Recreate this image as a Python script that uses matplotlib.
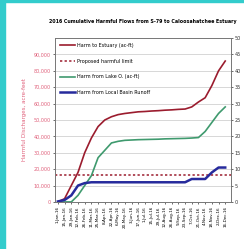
#!/usr/bin/env python3
import matplotlib
matplotlib.use("Agg")

import matplotlib.pyplot as plt
from matplotlib.patches import Rectangle


DATES = [
    "1-Jan-16", "15-Jan-16", "29-Jan-16", "12-Feb-16", "26-Feb-16",
    "11-Mar-16", "25-Mar-16", "8-Apr-16", "22-Apr-16", "6-May-16",
    "20-May-16", "3-Jun-16", "17-Jun-16", "1-Jul-16", "15-Jul-16",
    "29-Jul-16", "12-Aug-16", "26-Aug-16", "9-Sep-16", "23-Sep-16",
    "7-Oct-16", "21-Oct-16", "4-Nov-16", "18-Nov-16", "2-Dec-16",
    "16-Dec-16",
]

# cumulative acre-feet
HARM_TOTAL = [0, 2000, 10000, 18000, 30000, 39000, 46000, 50000, 52000, 53300,
              54000, 54500, 55000, 55200, 55500, 55700, 56000, 56200, 56500, 56700,
              58000, 61000, 63600, 71000, 80000, 86000]
HARM_LAKE = [0, 0, 0, 4000, 10000, 16000, 27000, 31500, 36000, 37000,
             37600, 37800, 38000, 38100, 38200, 38300, 38500, 38600, 38700, 38800,
             39000, 39300, 43000, 48500, 54000, 58000]
HARM_BASIN = [300, 1200, 4000, 10000, 11500, 12000, 12000, 12000, 12000, 12000,
              12000, 12000, 12000, 12000, 12000, 12000, 12000, 12000, 12000, 12000,
              14000, 14000, 14000, 18000, 21000, 21000]
HARM_LIMIT = 16500

LEFT_TICKS = [0, 10000, 20000, 30000, 40000, 50000, 60000, 70000, 80000, 90000]
LEFT_LABELS = ["0", "10,000", "20,000", "30,000", "40,000", "50,000",
               "60,000", "70,000", "80,000", "90,000"]
RIGHT_TICKS = [0, 5, 10, 15, 20, 25, 30, 35, 40, 45, 50]

RED = "#9b1c2e"
GREEN = "#3f9a6e"
NAVY = "#262a9c"
PINK = "#e0607a"

fig = plt.figure(figsize=(2.44, 2.49), dpi=100)
fig.patches.append(Rectangle((0, 0), 5 / 244, 1, transform=fig.transFigure,
                             color="#33cccc", zorder=0))
fig.patches.append(Rectangle((0, 1 - 2 / 249), 1, 2 / 249, transform=fig.transFigure,
                             color="#33cccc", zorder=0))

ax = fig.add_axes([0.225, 0.189, 0.72, 0.658])
x = list(range(len(DATES)))

ax.plot(x, HARM_TOTAL, color=RED, lw=1.2, label="Harm to Estuary (ac-ft)")
ax.axhline(HARM_LIMIT, color=RED, lw=1.1, ls=(0, (1.5, 1.5)),
           label="Proposed harmful limit")
ax.plot(x, HARM_LAKE, color=GREEN, lw=1.2, label="Harm from Lake O. (ac-ft)")
ax.plot(x, HARM_BASIN, color=NAVY, lw=1.8, label="Harm from Local Basin Runoff")

ax.set_xlim(-0.45, 25.8)
ax.set_ylim(0, 100000)
ax.set_yticks(LEFT_TICKS)
ax.set_yticklabels(LEFT_LABELS, color=PINK, fontsize=3.5)
ax.set_xticks(x)
ax.set_xticklabels(DATES, rotation=90, fontsize=3)
ax.tick_params(length=1.5, width=0.4, pad=1.5)
ax.grid(axis="y", color="#c8c8c8", lw=0.5)
ax.set_axisbelow(True)
for s in ax.spines.values():
    s.set_linewidth(0.6)
    s.set_color("#777777")
ax.set_ylabel("Harmful Discharges, acre-feet", color=PINK, fontsize=4, labelpad=5)

ax2 = ax.twinx()
ax2.set_ylim(0, 50)
ax2.set_yticks(RIGHT_TICKS)
ax2.set_yticklabels([str(t) for t in RIGHT_TICKS], fontsize=3.5, color="#333333")
ax2.tick_params(length=1.5, width=0.4, pad=1.5)
for s in ax2.spines.values():
    s.set_linewidth(0.6)
    s.set_color("#777777")

ax.set_title("2016 Cumulative Harmful Flows from S-79 to Caloosahatchee Estuary",
             fontsize=3.4, pad=11, fontweight="bold")
ax.legend(loc="upper left", frameon=False, fontsize=3.5, handlelength=3.1,
          labelspacing=2.2, borderaxespad=0.6, handletextpad=0.4)

fig.savefig("out.png", dpi=100)
